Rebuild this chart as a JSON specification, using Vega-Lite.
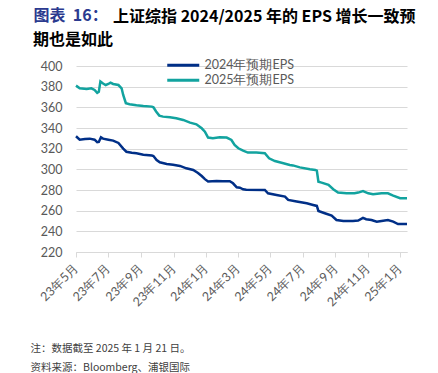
{
  "$schema": "https://vega.github.io/schema/vega-lite/v6.json",
  "width": 331,
  "height": 186,
  "autosize": {"type": "none"},
  "padding": {"left": 76, "top": 66, "right": 31, "bottom": 121},
  "background": "white",
  "title": {
    "text": ["\u200b\u3000\u3000\u3000\u3000\u3000上证综指 2024/2025 年的 EPS 增长一致预", "期也是如此"],
    "anchor": "start",
    "frame": "group",
    "dx": -43,
    "offset": -40,
    "dy": 1,
    "font": "Noto Sans CJK SC",
    "fontSize": 16,
    "fontWeight": "bold",
    "color": "#000000",
    "lineHeight": 23
  },
  "data": {
    "values": [
      {"d": "2023-05-01", "s": "2025年预期EPS", "v": 381},
      {"d": "2023-05-08", "s": "2025年预期EPS", "v": 378.4},
      {"d": "2023-05-21", "s": "2025年预期EPS", "v": 377.7},
      {"d": "2023-05-30", "s": "2025年预期EPS", "v": 378.4},
      {"d": "2023-06-05", "s": "2025年预期EPS", "v": 376.8},
      {"d": "2023-06-10", "s": "2025年预期EPS", "v": 374},
      {"d": "2023-06-13", "s": "2025年预期EPS", "v": 375},
      {"d": "2023-06-16", "s": "2025年预期EPS", "v": 385},
      {"d": "2023-06-21", "s": "2025年预期EPS", "v": 383},
      {"d": "2023-06-26", "s": "2025年预期EPS", "v": 381.6},
      {"d": "2023-07-01", "s": "2025年预期EPS", "v": 382.6},
      {"d": "2023-07-05", "s": "2025年预期EPS", "v": 383.9},
      {"d": "2023-07-10", "s": "2025年预期EPS", "v": 382.6},
      {"d": "2023-07-20", "s": "2025年预期EPS", "v": 381.6},
      {"d": "2023-07-26", "s": "2025年预期EPS", "v": 378.4},
      {"d": "2023-07-29", "s": "2025年预期EPS", "v": 372},
      {"d": "2023-08-03", "s": "2025年预期EPS", "v": 364},
      {"d": "2023-08-10", "s": "2025年预期EPS", "v": 363},
      {"d": "2023-08-23", "s": "2025年预期EPS", "v": 362},
      {"d": "2023-09-05", "s": "2025年预期EPS", "v": 361.3},
      {"d": "2023-09-21", "s": "2025年预期EPS", "v": 360.7},
      {"d": "2023-09-24", "s": "2025年预期EPS", "v": 360},
      {"d": "2023-09-29", "s": "2025年预期EPS", "v": 356},
      {"d": "2023-10-05", "s": "2025年预期EPS", "v": 352},
      {"d": "2023-10-12", "s": "2025年预期EPS", "v": 351},
      {"d": "2023-10-25", "s": "2025年预期EPS", "v": 350.4},
      {"d": "2023-11-06", "s": "2025年预期EPS", "v": 349.4},
      {"d": "2023-11-19", "s": "2025年预期EPS", "v": 347.8},
      {"d": "2023-12-02", "s": "2025年预期EPS", "v": 345.2},
      {"d": "2023-12-14", "s": "2025年预期EPS", "v": 343.6},
      {"d": "2023-12-24", "s": "2025年预期EPS", "v": 339.7},
      {"d": "2023-12-30", "s": "2025年预期EPS", "v": 336.5},
      {"d": "2024-01-05", "s": "2025年预期EPS", "v": 330.7},
      {"d": "2024-01-14", "s": "2025年预期EPS", "v": 330},
      {"d": "2024-01-27", "s": "2025年预期EPS", "v": 331},
      {"d": "2024-02-09", "s": "2025年预期EPS", "v": 330.7},
      {"d": "2024-02-18", "s": "2025年预期EPS", "v": 328.4},
      {"d": "2024-02-24", "s": "2025年预期EPS", "v": 323.6},
      {"d": "2024-03-02", "s": "2025年预期EPS", "v": 320.4},
      {"d": "2024-03-11", "s": "2025年预期EPS", "v": 318},
      {"d": "2024-03-20", "s": "2025年预期EPS", "v": 316.2},
      {"d": "2024-04-05", "s": "2025年预期EPS", "v": 316.2},
      {"d": "2024-04-21", "s": "2025年预期EPS", "v": 315.6},
      {"d": "2024-04-29", "s": "2025年预期EPS", "v": 310.7},
      {"d": "2024-05-10", "s": "2025年预期EPS", "v": 308},
      {"d": "2024-05-26", "s": "2025年预期EPS", "v": 305.9},
      {"d": "2024-06-07", "s": "2025年预期EPS", "v": 304.2},
      {"d": "2024-06-13", "s": "2025年预期EPS", "v": 303.8},
      {"d": "2024-06-26", "s": "2025年预期EPS", "v": 301.9},
      {"d": "2024-07-15", "s": "2025年预期EPS", "v": 300},
      {"d": "2024-07-25", "s": "2025年预期EPS", "v": 299.4},
      {"d": "2024-07-28", "s": "2025年预期EPS", "v": 298.7},
      {"d": "2024-07-31", "s": "2025年预期EPS", "v": 288},
      {"d": "2024-08-06", "s": "2025年预期EPS", "v": 287.1},
      {"d": "2024-08-19", "s": "2025年预期EPS", "v": 284.9},
      {"d": "2024-08-28", "s": "2025年预期EPS", "v": 280.7},
      {"d": "2024-09-06", "s": "2025年预期EPS", "v": 277.5},
      {"d": "2024-09-22", "s": "2025年预期EPS", "v": 276.8},
      {"d": "2024-10-07", "s": "2025年预期EPS", "v": 276.8},
      {"d": "2024-10-14", "s": "2025年预期EPS", "v": 277.5},
      {"d": "2024-10-23", "s": "2025年预期EPS", "v": 279},
      {"d": "2024-11-02", "s": "2025年预期EPS", "v": 276.8},
      {"d": "2024-11-11", "s": "2025年预期EPS", "v": 275.8},
      {"d": "2024-11-27", "s": "2025年预期EPS", "v": 276.8},
      {"d": "2024-12-09", "s": "2025年预期EPS", "v": 276.8},
      {"d": "2024-12-19", "s": "2025年预期EPS", "v": 274.6},
      {"d": "2025-01-01", "s": "2025年预期EPS", "v": 272},
      {"d": "2025-01-14", "s": "2025年预期EPS", "v": 272},
      {"d": "2023-05-01", "s": "2024年预期EPS", "v": 332},
      {"d": "2023-05-08", "s": "2024年预期EPS", "v": 328.7},
      {"d": "2023-05-18", "s": "2024年预期EPS", "v": 329.4},
      {"d": "2023-05-27", "s": "2024年预期EPS", "v": 329.7},
      {"d": "2023-06-05", "s": "2024年预期EPS", "v": 328.7},
      {"d": "2023-06-10", "s": "2024年预期EPS", "v": 326.2},
      {"d": "2023-06-13", "s": "2024年预期EPS", "v": 326.5},
      {"d": "2023-06-17", "s": "2024年预期EPS", "v": 331},
      {"d": "2023-06-21", "s": "2024年预期EPS", "v": 329.7},
      {"d": "2023-07-01", "s": "2024年预期EPS", "v": 328.7},
      {"d": "2023-07-10", "s": "2024年预期EPS", "v": 327.8},
      {"d": "2023-07-20", "s": "2024年预期EPS", "v": 325.5},
      {"d": "2023-07-29", "s": "2024年预期EPS", "v": 320},
      {"d": "2023-08-04", "s": "2024年预期EPS", "v": 317},
      {"d": "2023-08-14", "s": "2024年预期EPS", "v": 316},
      {"d": "2023-08-23", "s": "2024年预期EPS", "v": 315.5},
      {"d": "2023-09-05", "s": "2024年预期EPS", "v": 314.2},
      {"d": "2023-09-21", "s": "2024年预期EPS", "v": 313.3},
      {"d": "2023-09-24", "s": "2024年预期EPS", "v": 312.9},
      {"d": "2023-09-30", "s": "2024年预期EPS", "v": 309},
      {"d": "2023-10-06", "s": "2024年预期EPS", "v": 306.8},
      {"d": "2023-10-19", "s": "2024年预期EPS", "v": 305.2},
      {"d": "2023-10-31", "s": "2024年预期EPS", "v": 304.5},
      {"d": "2023-11-13", "s": "2024年预期EPS", "v": 303.3},
      {"d": "2023-11-25", "s": "2024年预期EPS", "v": 301},
      {"d": "2023-12-08", "s": "2024年预期EPS", "v": 299.4},
      {"d": "2023-12-17", "s": "2024年预期EPS", "v": 296.5},
      {"d": "2023-12-24", "s": "2024年预期EPS", "v": 293.5},
      {"d": "2023-12-30", "s": "2024年预期EPS", "v": 290.5},
      {"d": "2024-01-05", "s": "2024年预期EPS", "v": 288.3},
      {"d": "2024-01-21", "s": "2024年预期EPS", "v": 288.8},
      {"d": "2024-02-02", "s": "2024年预期EPS", "v": 288.4},
      {"d": "2024-02-15", "s": "2024年预期EPS", "v": 288.5},
      {"d": "2024-02-21", "s": "2024年预期EPS", "v": 286.5},
      {"d": "2024-02-28", "s": "2024年预期EPS", "v": 282.6},
      {"d": "2024-03-05", "s": "2024年预期EPS", "v": 282.2},
      {"d": "2024-03-11", "s": "2024年预期EPS", "v": 280.7},
      {"d": "2024-03-17", "s": "2024年预期EPS", "v": 280.3},
      {"d": "2024-04-21", "s": "2024年预期EPS", "v": 280},
      {"d": "2024-04-27", "s": "2024年预期EPS", "v": 276.8},
      {"d": "2024-05-13", "s": "2024年预期EPS", "v": 275.2},
      {"d": "2024-05-29", "s": "2024年预期EPS", "v": 273.6},
      {"d": "2024-06-04", "s": "2024年预期EPS", "v": 270.4},
      {"d": "2024-06-20", "s": "2024年预期EPS", "v": 268.8},
      {"d": "2024-07-09", "s": "2024年预期EPS", "v": 267.1},
      {"d": "2024-07-21", "s": "2024年预期EPS", "v": 265.5},
      {"d": "2024-07-28", "s": "2024年预期EPS", "v": 264.6},
      {"d": "2024-07-31", "s": "2024年预期EPS", "v": 259.7},
      {"d": "2024-08-12", "s": "2024年预期EPS", "v": 257.5},
      {"d": "2024-08-25", "s": "2024年预期EPS", "v": 255.2},
      {"d": "2024-09-03", "s": "2024年预期EPS", "v": 251},
      {"d": "2024-09-16", "s": "2024年预期EPS", "v": 250.1},
      {"d": "2024-10-04", "s": "2024年预期EPS", "v": 250.1},
      {"d": "2024-10-14", "s": "2024年预期EPS", "v": 250.4},
      {"d": "2024-10-23", "s": "2024年预期EPS", "v": 253},
      {"d": "2024-10-29", "s": "2024年预期EPS", "v": 251.7},
      {"d": "2024-11-08", "s": "2024年预期EPS", "v": 251},
      {"d": "2024-11-18", "s": "2024年预期EPS", "v": 249.4},
      {"d": "2024-11-27", "s": "2024年预期EPS", "v": 250.1},
      {"d": "2024-12-09", "s": "2024年预期EPS", "v": 251},
      {"d": "2024-12-19", "s": "2024年预期EPS", "v": 249.4},
      {"d": "2024-12-28", "s": "2024年预期EPS", "v": 247.1},
      {"d": "2025-01-14", "s": "2024年预期EPS", "v": 247.1}
    ]
  },
  "mark": {"type": "line", "strokeWidth": 2.5, "clip": false},
  "encoding": {
    "x": {
      "field": "d",
      "type": "temporal",
      "scale": {
        "type": "utc",
        "domain": [
          {"year": 2023, "month": 5, "date": 1, "utc": true},
          {"year": 2025, "month": 1, "date": 14, "utc": true}
        ]
      },
      "axis": {
        "values": [
          {"year": 2023, "month": 5, "date": 1, "utc": true},
          {"year": 2023, "month": 7, "date": 1, "utc": true},
          {"year": 2023, "month": 9, "date": 1, "utc": true},
          {"year": 2023, "month": 11, "date": 1, "utc": true},
          {"year": 2024, "month": 1, "date": 1, "utc": true},
          {"year": 2024, "month": 3, "date": 1, "utc": true},
          {"year": 2024, "month": 5, "date": 1, "utc": true},
          {"year": 2024, "month": 7, "date": 1, "utc": true},
          {"year": 2024, "month": 9, "date": 1, "utc": true},
          {"year": 2024, "month": 11, "date": 1, "utc": true},
          {"year": 2025, "month": 1, "date": 1, "utc": true}
        ],
        "labelExpr": "utcFormat(datum.value, '%y年%-m月')",
        "labelAngle": -45,
        "labelAlign": "right",
        "labelBaseline": "middle",
        "labelPadding": 8,
        "labelOverlap": false,
        "labelFlush": false,
        "labelFont": "Lato",
        "labelFontSize": 12.5,
        "labelColor": "#595959",
        "tickSize": 5,
        "tickColor": "#D9D9D9",
        "domainColor": "#D9D9D9",
        "grid": false,
        "title": ["注：数据截至 2025 年 1 月 21 日。", "资料来源：Bloomberg、浦银国际"],
        "titleX": -46,
        "titleY": 91,
        "titleAlign": "left",
        "titleAnchor": "start",
        "titleBaseline": "top",
        "titleFont": "Noto Sans CJK SC",
        "titleFontSize": 10.5,
        "titleFontWeight": "normal",
        "titleColor": "#404040",
        "titleLineHeight": 19
      }
    },
    "y": {
      "field": "v",
      "type": "quantitative",
      "scale": {"domain": [220, 400]},
      "axis": {
        "values": [220, 240, 260, 280, 300, 320, 340, 360, 380, 400],
        "ticks": false,
        "domain": false,
        "grid": true,
        "gridColor": "#D9D9D9",
        "gridWidth": 1,
        "labelFont": "Lato",
        "labelFontSize": 12.5,
        "labelColor": "#595959",
        "labelPadding": 14,
        "title": "图表\u00a0\u00a016：",
        "titleAngle": 0,
        "titleX": -43,
        "titleY": -51,
        "titleAlign": "left",
        "titleBaseline": "middle",
        "titleFont": "Noto Sans CJK SC",
        "titleFontSize": 16,
        "titleFontWeight": "bold",
        "titleColor": "#2B3A8F"
      }
    },
    "color": {
      "field": "s",
      "type": "nominal",
      "scale": {
        "domain": ["2024年预期EPS", "2025年预期EPS"],
        "range": ["#002F87", "#12A39F"]
      },
      "legend": {
        "title": null,
        "orient": "none",
        "legendX": 113,
        "legendY": -7,
        "symbolType": "M-7,0H1",
        "symbolSize": 64,
        "symbolStrokeWidth": 3,
        "symbolFillColor": "transparent",
        "labelFont": "Lato",
        "labelFontSize": 12.5,
        "labelColor": "#595959",
        "labelOffset": 3,
        "rowPadding": 2,
        "padding": 0
      }
    }
  },
  "config": {"view": {"stroke": null}}
}
